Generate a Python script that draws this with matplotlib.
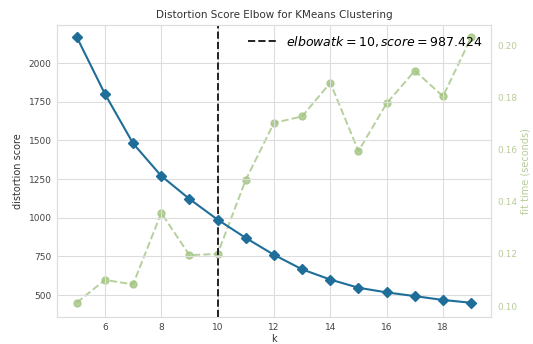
import matplotlib
matplotlib.use("Agg")
import matplotlib.pyplot as plt

# Datos
k_values = [5, 6, 7, 8, 9, 10, 11, 12, 13, 14, 15, 16, 17, 18, 19]
distortion = [2168, 1800, 1480, 1270, 1121, 987.424, 869, 760, 666, 600, 547, 517, 493, 468, 450]
fit_time = [0.1013, 0.1100, 0.1083, 0.1357, 0.1195, 0.1200, 0.1484, 0.1702, 0.1727,
            0.1856, 0.1594, 0.1777, 0.1902, 0.1804, 0.2030]
elbow_k = 10
elbow_score = 987.424

blue = "#1f6e9a"
green = "#a3c583"
grid_col = "#dddddd"

fig = plt.figure(figsize=(5.33, 3.44), dpi=100)
ax = fig.add_axes([0.107, 0.0785, 0.814, 0.8485])

ax.plot(k_values, distortion, color=blue, marker="D", markersize=5, linewidth=1.5, zorder=3)
ax.axvline(elbow_k, color="#222222", linestyle="--", linewidth=1.4,
           label=r"$elbow at k = %d, score = %.3f$" % (elbow_k, elbow_score))

ax.set_xlim(4.3, 19.7)
ax.set_ylim(358, 2245)
ax.set_xticks([6, 8, 10, 12, 14, 16, 18])
ax.set_yticks([500, 750, 1000, 1250, 1500, 1750, 2000])
ax.grid(True, color=grid_col, linewidth=0.8)
ax.set_axisbelow(True)
ax.tick_params(labelsize=6.5, colors="#444444", length=0, pad=4)
for s in ax.spines.values():
    s.set_color(grid_col)

ax.set_title("Distortion Score Elbow for KMeans Clustering", fontsize=7.5, color="#333333", pad=5)
ax.set_xlabel("k", fontsize=7, color="#333333", labelpad=2)
ax.set_ylabel("distortion score", fontsize=7, color="#333333", labelpad=4)

# Eje secundario para el tiempo de ajuste
ax2 = ax.twinx()
ax2.plot(k_values, fit_time, color=green, marker="o", markersize=5, linestyle="--",
         linewidth=1.4, alpha=0.8)
ax2.set_ylim(0.0958, 0.2077)
ax2.set_yticks([0.10, 0.12, 0.14, 0.16, 0.18, 0.20])
ax2.grid(False)
ax2.tick_params(labelsize=6.5, colors="#b8cc98", length=0, pad=5)
ax2.set_ylabel("fit time (seconds)", fontsize=7, color="#b8cc98", labelpad=2)
for s in ax2.spines.values():
    s.set_color(grid_col)

ax.legend(loc="upper right", frameon=False, fontsize=9, handlelength=2.2,
          borderaxespad=0.3)
ax.set_zorder(ax2.get_zorder() + 1)
ax.patch.set_visible(False)

fig.savefig("out.png", dpi=100)
